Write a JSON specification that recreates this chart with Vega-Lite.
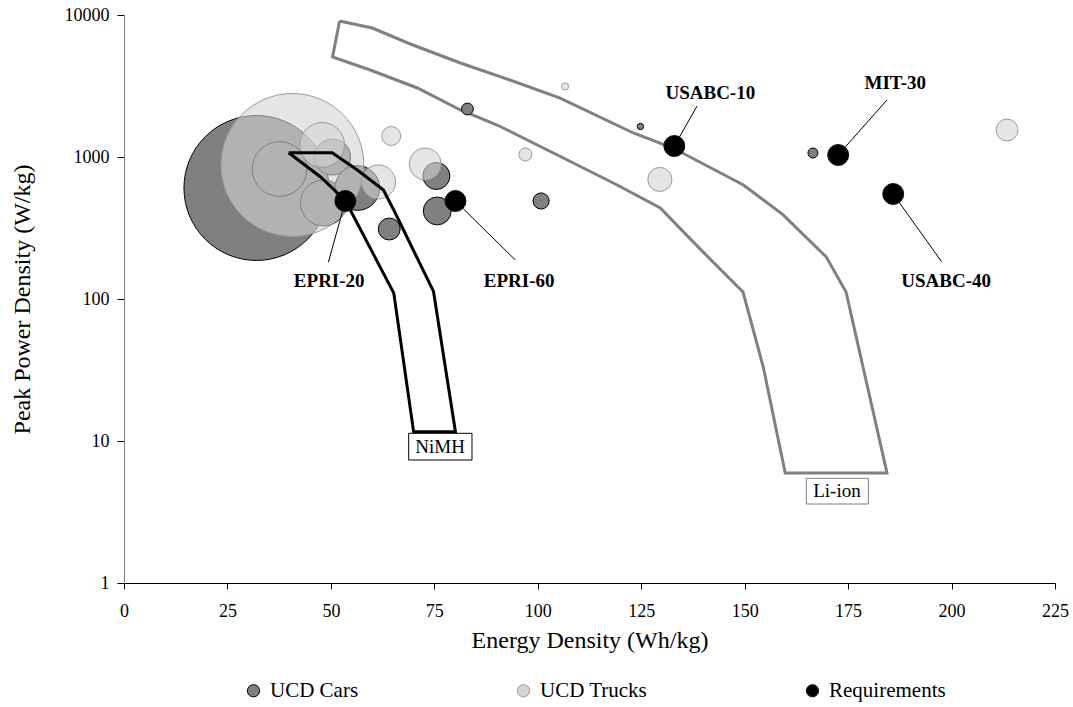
{
  "$schema": "https://vega.github.io/schema/vega-lite/v6.json",
  "width": 931,
  "height": 568,
  "autosize": {"type": "none"},
  "padding": {"left": 124, "top": 15, "right": 18, "bottom": 124},
  "background": "white",
  "config": {
    "view": {"stroke": null},
    "font": "Times New Roman",
    "style": {"guide-label": {"font": "Times New Roman"}, "guide-title": {"font": "Times New Roman"}},
    "axis": {"grid": false, "labelFont": "Times New Roman", "titleFont": "Times New Roman", "labelColor": "#000", "titleColor": "#000", "titleFontWeight": "normal", "tickColor": "#000"},
    "legend": {"labelFont": "Times New Roman", "labelFontSize": 21, "labelColor": "#000"}
  },
  "datasets": {
    "bubbles": [
      {"series": "UCD Cars", "energy": 32.0, "power": 605, "bubble": 210},
      {"series": "UCD Cars", "energy": 37.6, "power": 823, "bubble": 30},
      {"series": "UCD Cars", "energy": 48.2, "power": 474, "bubble": 21},
      {"series": "UCD Cars", "energy": 50.4, "power": 1000, "bubble": 13},
      {"series": "UCD Cars", "energy": 56.4, "power": 605, "bubble": 20},
      {"series": "UCD Cars", "energy": 64.1, "power": 311, "bubble": 4.8},
      {"series": "UCD Cars", "energy": 75.5, "power": 735, "bubble": 7.3},
      {"series": "UCD Cars", "energy": 75.7, "power": 417, "bubble": 7.8},
      {"series": "UCD Cars", "energy": 100.8, "power": 490, "bubble": 2.6},
      {"series": "UCD Cars", "energy": 83.0, "power": 2178, "bubble": 1.4},
      {"series": "UCD Cars", "energy": 124.8, "power": 1640, "bubble": 0.4},
      {"series": "UCD Cars", "energy": 166.5, "power": 1067, "bubble": 1.0},
      {"series": "UCD Trucks", "energy": 40.7, "power": 879, "bubble": 204},
      {"series": "UCD Trucks", "energy": 47.9, "power": 1216, "bubble": 20},
      {"series": "UCD Trucks", "energy": 61.5, "power": 667, "bubble": 11.6},
      {"series": "UCD Trucks", "energy": 64.6, "power": 1406, "bubble": 3.6},
      {"series": "UCD Trucks", "energy": 72.8, "power": 893, "bubble": 10.2},
      {"series": "UCD Trucks", "energy": 97.0, "power": 1042, "bubble": 1.7},
      {"series": "UCD Trucks", "energy": 106.6, "power": 3136, "bubble": 0.5},
      {"series": "UCD Trucks", "energy": 129.5, "power": 695, "bubble": 5.8},
      {"series": "UCD Trucks", "energy": 213.4, "power": 1549, "bubble": 4.8}
    ],
    "requirements": [
      {"series": "Requirements", "name": "EPRI-20", "energy": 53.5, "power": 490},
      {"series": "Requirements", "name": "EPRI-60", "energy": 80.1, "power": 490},
      {"series": "Requirements", "name": "USABC-10", "energy": 133.0, "power": 1195},
      {"series": "Requirements", "name": "MIT-30", "energy": 172.6, "power": 1033},
      {"series": "Requirements", "name": "USABC-40", "energy": 185.9, "power": 549}
    ],
    "annotations": [
      {"name": "EPRI-20", "energy": 53.5, "power": 490, "leadEnergy": 49.4, "leadPower": 182, "labelEnergy": 49.6, "labelPower": 134},
      {"name": "EPRI-60", "energy": 80.1, "power": 490, "leadEnergy": 94.6, "leadPower": 188, "labelEnergy": 95.5, "labelPower": 134},
      {"name": "USABC-10", "energy": 133.0, "power": 1195, "leadEnergy": 138.5, "leadPower": 2287, "labelEnergy": 141.7, "labelPower": 2824},
      {"name": "MIT-30", "energy": 172.6, "power": 1033, "leadEnergy": 184.4, "leadPower": 2520, "labelEnergy": 186.4, "labelPower": 3319},
      {"name": "USABC-40", "energy": 185.9, "power": 549, "leadEnergy": 197.6, "leadPower": 183, "labelEnergy": 198.7, "labelPower": 134}
    ],
    "liion": [
      {"i": 0, "energy": 52.1, "power": 9076},
      {"i": 1, "energy": 60.0, "power": 8094},
      {"i": 2, "energy": 69.2, "power": 6250},
      {"i": 3, "energy": 81.3, "power": 4592},
      {"i": 4, "energy": 93.3, "power": 3483},
      {"i": 5, "energy": 105.4, "power": 2602},
      {"i": 6, "energy": 123.1, "power": 1476},
      {"i": 7, "energy": 132.7, "power": 1157},
      {"i": 8, "energy": 149.7, "power": 635},
      {"i": 9, "energy": 159.3, "power": 391},
      {"i": 10, "energy": 169.7, "power": 198},
      {"i": 11, "energy": 174.5, "power": 112},
      {"i": 12, "energy": 184.4, "power": 5.95},
      {"i": 13, "energy": 159.8, "power": 5.95},
      {"i": 14, "energy": 154.5, "power": 33.2},
      {"i": 15, "energy": 149.6, "power": 112},
      {"i": 16, "energy": 139.5, "power": 221},
      {"i": 17, "energy": 129.6, "power": 437},
      {"i": 18, "energy": 119.2, "power": 635},
      {"i": 19, "energy": 106.2, "power": 984},
      {"i": 20, "energy": 90.2, "power": 1680},
      {"i": 21, "energy": 81.3, "power": 2143},
      {"i": 22, "energy": 70.9, "power": 3062},
      {"i": 23, "energy": 59.5, "power": 4100},
      {"i": 24, "energy": 50.4, "power": 5060},
      {"i": 25, "energy": 52.1, "power": 9076}
    ],
    "nimh": [
      {"i": 0, "energy": 39.8, "power": 1072},
      {"i": 1, "energy": 50.3, "power": 1072},
      {"i": 2, "energy": 56.4, "power": 810},
      {"i": 3, "energy": 62.7, "power": 586},
      {"i": 4, "energy": 65.2, "power": 423},
      {"i": 5, "energy": 74.8, "power": 113},
      {"i": 6, "energy": 80.1, "power": 11.6},
      {"i": 7, "energy": 70.0, "power": 11.6},
      {"i": 8, "energy": 65.2, "power": 110},
      {"i": 9, "energy": 54.7, "power": 423},
      {"i": 10, "energy": 51.6, "power": 558},
      {"i": 11, "energy": 47.5, "power": 723},
      {"i": 12, "energy": 39.8, "power": 1072}
    ],
    "boxes": [
      {"label": "NiMH", "e1": 68.8, "e2": 84.1, "p1": 11.33, "p2": 7.35, "te": 76.4, "tp": 9.07},
      {"label": "Li-ion", "e1": 164.9, "e2": 179.9, "p1": 5.46, "p2": 3.60, "te": 172.3, "tp": 4.44}
    ]
  },
  "encoding": {
    "x": {"field": "energy", "type": "quantitative", "scale": {"domain": [0, 225], "nice": false, "zero": false},
      "axis": {"title": "Energy Density (Wh/kg)", "values": [0, 25, 50, 75, 100, 125, 150, 175, 200, 225], "labelFontSize": 18, "titleFontSize": 24, "labelFont": "Times New Roman", "titleFont": "Times New Roman", "tickSize": 6, "labelPadding": 13, "titlePadding": 8, "domainColor": "#000", "labelFlush": false}},
    "y": {"field": "power", "type": "quantitative", "scale": {"type": "log", "domain": [1, 10000], "nice": false},
      "axis": {"title": "Peak Power Density (W/kg)", "values": [1, 10, 100, 1000, 10000], "format": "d", "labelFontSize": 18, "titleFontSize": 24, "labelFont": "Times New Roman", "titleFont": "Times New Roman", "tickSize": 7, "labelPadding": 8, "titlePadding": 30, "domainColor": "#808080", "labelFlush": false}}
  },
  "layer": [
    {
      "data": {"name": "liion"},
      "mark": {"type": "line", "color": "#808080", "strokeWidth": 3, "strokeJoin": "miter"},
      "encoding": {"order": {"field": "i", "type": "quantitative"}}
    },
    {
      "data": {"name": "bubbles"},
      "transform": [{"filter": "datum.series === 'UCD Cars'"}],
      "mark": {"type": "point", "shape": "circle", "filled": true, "opacity": 1, "strokeWidth": 1},
      "encoding": {
        "fill": {"field": "series", "type": "nominal", "scale": {"domain": ["UCD Cars", "UCD Trucks", "Requirements"], "range": ["#808080", "#d4d4d4", "#000000"]},
          "legend": {"title": null, "orient": "none", "direction": "horizontal", "legendX": 119, "legendY": 665, "symbolSize": 150, "symbolStrokeWidth": 1, "labelOffset": 6, "columnPadding": 154, "symbolType": "circle", "labelFont": "Times New Roman", "labelFontSize": 21, "labelColor": "#000"}},
        "stroke": {"field": "series", "type": "nominal", "scale": {"domain": ["UCD Cars", "UCD Trucks", "Requirements"], "range": ["#000000", "#9a9a9a", "#001a00"]},
          "legend": {"title": null, "orient": "none", "direction": "horizontal", "legendX": 119, "legendY": 665, "symbolSize": 150, "symbolStrokeWidth": 1, "labelOffset": 6, "columnPadding": 154, "symbolType": "circle", "labelFont": "Times New Roman", "labelFontSize": 21, "labelColor": "#000"}},
        "size": {"field": "bubble", "type": "quantitative", "scale": {"domain": [0, 250], "range": [0, 25000]}, "legend": null}
      }
    },
    {
      "data": {"name": "bubbles"},
      "transform": [{"filter": "datum.series === 'UCD Trucks'"}],
      "mark": {"type": "point", "shape": "circle", "filled": true, "fillOpacity": 0.6, "strokeOpacity": 1, "strokeWidth": 1},
      "encoding": {
        "fill": {"field": "series", "type": "nominal"},
        "stroke": {"field": "series", "type": "nominal"},
        "size": {"field": "bubble", "type": "quantitative", "legend": null}
      }
    },
    {
      "data": {"name": "nimh"},
      "mark": {"type": "line", "color": "#000000", "strokeWidth": 3, "strokeJoin": "miter"},
      "encoding": {"order": {"field": "i", "type": "quantitative"}}
    },
    {
      "data": {"name": "annotations"},
      "mark": {"type": "rule", "color": "#000000", "strokeWidth": 1},
      "encoding": {"x2": {"field": "leadEnergy"}, "y2": {"field": "leadPower"}}
    },
    {
      "data": {"name": "requirements"},
      "mark": {"type": "point", "shape": "circle", "filled": true, "opacity": 1, "size": 440, "strokeWidth": 1},
      "encoding": {
        "fill": {"field": "series", "type": "nominal"},
        "stroke": {"field": "series", "type": "nominal"}
      }
    },
    {
      "data": {"name": "annotations"},
      "mark": {"type": "text", "font": "Times New Roman", "fontWeight": "bold", "fontSize": 19, "align": "center", "baseline": "middle", "color": "#000"},
      "encoding": {
        "x": {"field": "labelEnergy", "type": "quantitative"},
        "y": {"field": "labelPower", "type": "quantitative"},
        "text": {"field": "name"}
      }
    },
    {
      "data": {"name": "boxes"},
      "transform": [{"filter": "datum.label === 'NiMH'"}],
      "mark": {"type": "rect", "fill": "white", "stroke": "#000000", "strokeWidth": 1},
      "encoding": {
        "x": {"field": "e1", "type": "quantitative"},
        "x2": {"field": "e2"},
        "y": {"field": "p1", "type": "quantitative"},
        "y2": {"field": "p2"}
      }
    },
    {
      "data": {"name": "boxes"},
      "transform": [{"filter": "datum.label === 'Li-ion'"}],
      "mark": {"type": "rect", "fill": "white", "stroke": "#808080", "strokeWidth": 1},
      "encoding": {
        "x": {"field": "e1", "type": "quantitative"},
        "x2": {"field": "e2"},
        "y": {"field": "p1", "type": "quantitative"},
        "y2": {"field": "p2"}
      }
    },
    {
      "data": {"name": "boxes"},
      "mark": {"type": "text", "font": "Times New Roman", "fontSize": 19, "align": "center", "baseline": "middle", "color": "#000"},
      "encoding": {
        "x": {"field": "te", "type": "quantitative"},
        "y": {"field": "tp", "type": "quantitative"},
        "text": {"field": "label"}
      }
    }
  ]
}
